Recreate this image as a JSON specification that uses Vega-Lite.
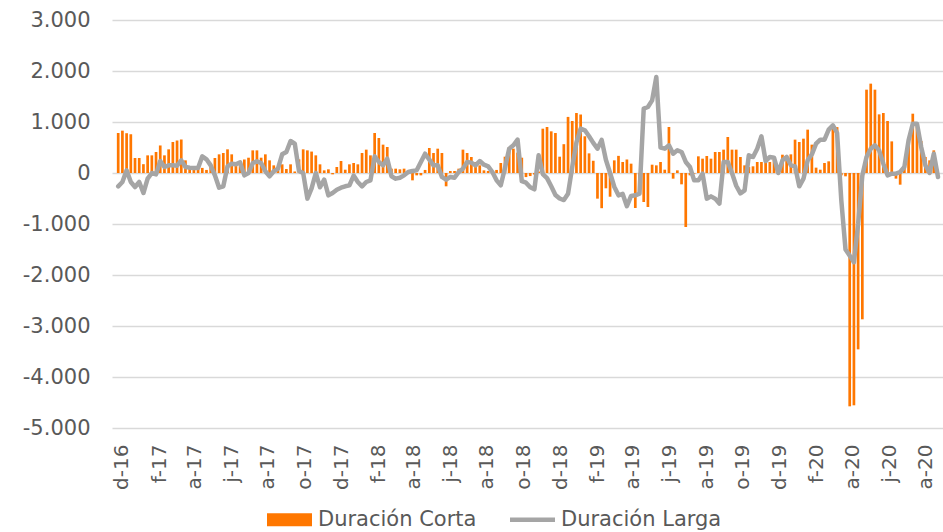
{
  "$schema": "https://vega.github.io/schema/vega-lite/v6.json",
  "width": 831,
  "height": 408,
  "autosize": {"type": "none"},
  "padding": {"left": 112, "top": 20, "right": 0, "bottom": 104},
  "background": "#ffffff",
  "config": {
    "view": {"stroke": null},
    "font": "DejaVu Sans"
  },
  "data": {
    "values": [
      {"fecha": "2016-11-25", "corta": 784, "larga": -261},
      {"fecha": "2016-12-02", "corta": 830, "larga": -176},
      {"fecha": "2016-12-09", "corta": 780, "larga": 52},
      {"fecha": "2016-12-16", "corta": 760, "larga": -176},
      {"fecha": "2016-12-23", "corta": 294, "larga": -275},
      {"fecha": "2016-12-30", "corta": 294, "larga": -176},
      {"fecha": "2017-01-06", "corta": 173, "larga": -392},
      {"fecha": "2017-01-13", "corta": 346, "larga": -111},
      {"fecha": "2017-01-20", "corta": 346, "larga": 0},
      {"fecha": "2017-01-27", "corta": 412, "larga": -26},
      {"fecha": "2017-02-03", "corta": 540, "larga": 235},
      {"fecha": "2017-02-10", "corta": 346, "larga": 118},
      {"fecha": "2017-02-17", "corta": 464, "larga": 150},
      {"fecha": "2017-02-24", "corta": 608, "larga": 150},
      {"fecha": "2017-03-03", "corta": 637, "larga": 144},
      {"fecha": "2017-03-10", "corta": 657, "larga": 248},
      {"fecha": "2017-03-17", "corta": 248, "larga": 118},
      {"fecha": "2017-03-24", "corta": 110, "larga": 105},
      {"fecha": "2017-03-31", "corta": 100, "larga": 98},
      {"fecha": "2017-04-07", "corta": 90, "larga": 98},
      {"fecha": "2017-04-14", "corta": 100, "larga": 327},
      {"fecha": "2017-04-21", "corta": 60, "larga": 268},
      {"fecha": "2017-04-28", "corta": 180, "larga": 150},
      {"fecha": "2017-05-05", "corta": 294, "larga": -46},
      {"fecha": "2017-05-12", "corta": 366, "larga": -288},
      {"fecha": "2017-05-19", "corta": 392, "larga": -261},
      {"fecha": "2017-05-26", "corta": 464, "larga": 131},
      {"fecha": "2017-06-02", "corta": 366, "larga": 183},
      {"fecha": "2017-06-09", "corta": 216, "larga": 170},
      {"fecha": "2017-06-16", "corta": 220, "larga": 209},
      {"fecha": "2017-06-23", "corta": 265, "larga": -46},
      {"fecha": "2017-06-30", "corta": 300, "larga": 0},
      {"fecha": "2017-07-07", "corta": 444, "larga": 196},
      {"fecha": "2017-07-14", "corta": 444, "larga": 229},
      {"fecha": "2017-07-21", "corta": 300, "larga": 196},
      {"fecha": "2017-07-28", "corta": 366, "larga": 33},
      {"fecha": "2017-08-04", "corta": 248, "larga": -65},
      {"fecha": "2017-08-11", "corta": 150, "larga": 33},
      {"fecha": "2017-08-18", "corta": 100, "larga": 85},
      {"fecha": "2017-08-25", "corta": 170, "larga": 366},
      {"fecha": "2017-09-01", "corta": 78, "larga": 412},
      {"fecha": "2017-09-08", "corta": 170, "larga": 627},
      {"fecha": "2017-09-15", "corta": 30, "larga": 575},
      {"fecha": "2017-09-22", "corta": 268, "larga": 39},
      {"fecha": "2017-09-29", "corta": 464, "larga": 0},
      {"fecha": "2017-10-06", "corta": 444, "larga": -503},
      {"fecha": "2017-10-13", "corta": 420, "larga": -300},
      {"fecha": "2017-10-20", "corta": 346, "larga": 0},
      {"fecha": "2017-10-27", "corta": 170, "larga": -280},
      {"fecha": "2017-11-03", "corta": 52, "larga": -131},
      {"fecha": "2017-11-10", "corta": 72, "larga": -438},
      {"fecha": "2017-11-17", "corta": -26, "larga": -392},
      {"fecha": "2017-11-24", "corta": 118, "larga": -327},
      {"fecha": "2017-12-01", "corta": 235, "larga": -288},
      {"fecha": "2017-12-08", "corta": 65, "larga": -261},
      {"fecha": "2017-12-15", "corta": 170, "larga": -242},
      {"fecha": "2017-12-22", "corta": 196, "larga": -50},
      {"fecha": "2017-12-29", "corta": 170, "larga": -176},
      {"fecha": "2018-01-05", "corta": 392, "larga": -261},
      {"fecha": "2018-01-12", "corta": 458, "larga": -176},
      {"fecha": "2018-01-19", "corta": 346, "larga": -144},
      {"fecha": "2018-01-26", "corta": 784, "larga": 327},
      {"fecha": "2018-02-02", "corta": 686, "larga": 216},
      {"fecha": "2018-02-09", "corta": 556, "larga": 150},
      {"fecha": "2018-02-16", "corta": 510, "larga": 281},
      {"fecha": "2018-02-23", "corta": 85, "larga": -65},
      {"fecha": "2018-03-02", "corta": 85, "larga": -111},
      {"fecha": "2018-03-09", "corta": 72, "larga": -92},
      {"fecha": "2018-03-16", "corta": 85, "larga": -46},
      {"fecha": "2018-03-23", "corta": 39, "larga": 20},
      {"fecha": "2018-03-30", "corta": -144, "larga": 39},
      {"fecha": "2018-04-06", "corta": -46, "larga": 52},
      {"fecha": "2018-04-13", "corta": -46, "larga": 216},
      {"fecha": "2018-04-20", "corta": 60, "larga": 379},
      {"fecha": "2018-04-27", "corta": 490, "larga": 261},
      {"fecha": "2018-05-04", "corta": 392, "larga": 150},
      {"fecha": "2018-05-11", "corta": 477, "larga": 150},
      {"fecha": "2018-05-18", "corta": 392, "larga": -78},
      {"fecha": "2018-05-25", "corta": -261, "larga": -131},
      {"fecha": "2018-06-01", "corta": 39, "larga": -78},
      {"fecha": "2018-06-08", "corta": 39, "larga": -92},
      {"fecha": "2018-06-15", "corta": 85, "larga": 20},
      {"fecha": "2018-06-22", "corta": 458, "larga": 85},
      {"fecha": "2018-06-29", "corta": 392, "larga": 216},
      {"fecha": "2018-07-06", "corta": 314, "larga": 203},
      {"fecha": "2018-07-13", "corta": 216, "larga": 150},
      {"fecha": "2018-07-20", "corta": 150, "larga": 235},
      {"fecha": "2018-07-27", "corta": 52, "larga": 163},
      {"fecha": "2018-08-03", "corta": 40, "larga": 131},
      {"fecha": "2018-08-10", "corta": 30, "larga": 20},
      {"fecha": "2018-08-17", "corta": 60, "larga": -144},
      {"fecha": "2018-08-24", "corta": 196, "larga": -242},
      {"fecha": "2018-08-31", "corta": 320, "larga": 100},
      {"fecha": "2018-09-07", "corta": 510, "larga": 477},
      {"fecha": "2018-09-14", "corta": 477, "larga": 542},
      {"fecha": "2018-09-21", "corta": 400, "larga": 654},
      {"fecha": "2018-09-28", "corta": 300, "larga": -160},
      {"fecha": "2018-10-05", "corta": -80, "larga": -190},
      {"fecha": "2018-10-12", "corta": -60, "larga": -280},
      {"fecha": "2018-10-19", "corta": -30, "larga": -320},
      {"fecha": "2018-10-26", "corta": 30, "larga": 346},
      {"fecha": "2018-11-02", "corta": 869, "larga": -20},
      {"fecha": "2018-11-09", "corta": 902, "larga": -100},
      {"fecha": "2018-11-16", "corta": 817, "larga": -260},
      {"fecha": "2018-11-23", "corta": 784, "larga": -430},
      {"fecha": "2018-11-30", "corta": 320, "larga": -500},
      {"fecha": "2018-12-07", "corta": 565, "larga": -530},
      {"fecha": "2018-12-14", "corta": 1100, "larga": -405},
      {"fecha": "2018-12-21", "corta": 1020, "larga": 118},
      {"fecha": "2018-12-28", "corta": 1176, "larga": 600},
      {"fecha": "2019-01-04", "corta": 1147, "larga": 870},
      {"fecha": "2019-01-11", "corta": 720, "larga": 837},
      {"fecha": "2019-01-18", "corta": 385, "larga": 720},
      {"fecha": "2019-01-25", "corta": 240, "larga": 590},
      {"fecha": "2019-02-01", "corta": -503, "larga": 477},
      {"fecha": "2019-02-08", "corta": -690, "larga": 650},
      {"fecha": "2019-02-15", "corta": -300, "larga": 260},
      {"fecha": "2019-02-22", "corta": -465, "larga": 0},
      {"fecha": "2019-03-01", "corta": 248, "larga": -270},
      {"fecha": "2019-03-08", "corta": 336, "larga": -438},
      {"fecha": "2019-03-15", "corta": 216, "larga": -410},
      {"fecha": "2019-03-22", "corta": 265, "larga": -650},
      {"fecha": "2019-03-29", "corta": 183, "larga": -450},
      {"fecha": "2019-04-05", "corta": -686, "larga": -438},
      {"fecha": "2019-04-12", "corta": -392, "larga": -405},
      {"fecha": "2019-04-19", "corta": -569, "larga": 1261},
      {"fecha": "2019-04-26", "corta": -667, "larga": 1294},
      {"fecha": "2019-05-03", "corta": 163, "larga": 1425},
      {"fecha": "2019-05-10", "corta": 150, "larga": 1882},
      {"fecha": "2019-05-17", "corta": 216, "larga": 497},
      {"fecha": "2019-05-24", "corta": 65, "larga": 477},
      {"fecha": "2019-05-31", "corta": 902, "larga": 542},
      {"fecha": "2019-06-07", "corta": -111, "larga": 379},
      {"fecha": "2019-06-14", "corta": 52, "larga": 444},
      {"fecha": "2019-06-21", "corta": -222, "larga": 412},
      {"fecha": "2019-06-28", "corta": -1059, "larga": 216},
      {"fecha": "2019-07-05", "corta": -46, "larga": 118},
      {"fecha": "2019-07-12", "corta": -13, "larga": -144},
      {"fecha": "2019-07-19", "corta": 327, "larga": -144},
      {"fecha": "2019-07-26", "corta": 281, "larga": -13},
      {"fecha": "2019-08-02", "corta": 333, "larga": -503},
      {"fecha": "2019-08-09", "corta": 281, "larga": -458},
      {"fecha": "2019-08-16", "corta": 412, "larga": -503},
      {"fecha": "2019-08-23", "corta": 412, "larga": -601},
      {"fecha": "2019-08-30", "corta": 458, "larga": 216},
      {"fecha": "2019-09-06", "corta": 706, "larga": 216},
      {"fecha": "2019-09-13", "corta": 458, "larga": 0},
      {"fecha": "2019-09-20", "corta": 458, "larga": -250},
      {"fecha": "2019-09-27", "corta": 314, "larga": -400},
      {"fecha": "2019-10-04", "corta": 150, "larga": -340},
      {"fecha": "2019-10-11", "corta": 118, "larga": 346},
      {"fecha": "2019-10-18", "corta": 131, "larga": 314},
      {"fecha": "2019-10-25", "corta": 216, "larga": 477},
      {"fecha": "2019-11-01", "corta": 216, "larga": 719},
      {"fecha": "2019-11-08", "corta": 261, "larga": 235},
      {"fecha": "2019-11-15", "corta": 216, "larga": 314},
      {"fecha": "2019-11-22", "corta": 281, "larga": 300},
      {"fecha": "2019-11-29", "corta": 150, "larga": 0},
      {"fecha": "2019-12-06", "corta": 359, "larga": 248},
      {"fecha": "2019-12-13", "corta": 340, "larga": 314},
      {"fecha": "2019-12-20", "corta": 366, "larga": 150},
      {"fecha": "2019-12-27", "corta": 654, "larga": 131},
      {"fecha": "2020-01-03", "corta": 608, "larga": -261},
      {"fecha": "2020-01-10", "corta": 673, "larga": -111},
      {"fecha": "2020-01-17", "corta": 850, "larga": 248},
      {"fecha": "2020-01-24", "corta": 556, "larga": 366},
      {"fecha": "2020-01-31", "corta": 105, "larga": 575},
      {"fecha": "2020-02-07", "corta": 65, "larga": 654},
      {"fecha": "2020-02-14", "corta": 196, "larga": 654},
      {"fecha": "2020-02-21", "corta": 229, "larga": 850},
      {"fecha": "2020-02-28", "corta": 930, "larga": 935},
      {"fecha": "2020-03-06", "corta": 900, "larga": 784},
      {"fecha": "2020-03-13", "corta": -46, "larga": -536},
      {"fecha": "2020-03-20", "corta": -65, "larga": -1500},
      {"fecha": "2020-03-27", "corta": -4575, "larga": -1620},
      {"fecha": "2020-04-03", "corta": -4555, "larga": -1750},
      {"fecha": "2020-04-10", "corta": -3458, "larga": -1000},
      {"fecha": "2020-04-17", "corta": -2869, "larga": -50},
      {"fecha": "2020-04-24", "corta": 1634, "larga": 314},
      {"fecha": "2020-05-01", "corta": 1752, "larga": 477},
      {"fecha": "2020-05-08", "corta": 1634, "larga": 542},
      {"fecha": "2020-05-15", "corta": 1150, "larga": 444},
      {"fecha": "2020-05-22", "corta": 1176, "larga": 183},
      {"fecha": "2020-05-29", "corta": 1020, "larga": -46},
      {"fecha": "2020-06-05", "corta": 620, "larga": -13},
      {"fecha": "2020-06-12", "corta": -111, "larga": -13},
      {"fecha": "2020-06-19", "corta": -229, "larga": 20},
      {"fecha": "2020-06-26", "corta": 150, "larga": 118},
      {"fecha": "2020-07-03", "corta": 542, "larga": 641},
      {"fecha": "2020-07-10", "corta": 1163, "larga": 967},
      {"fecha": "2020-07-17", "corta": 980, "larga": 967},
      {"fecha": "2020-07-24", "corta": 627, "larga": 510},
      {"fecha": "2020-07-31", "corta": 314, "larga": 150},
      {"fecha": "2020-08-07", "corta": 248, "larga": 0},
      {"fecha": "2020-08-14", "corta": 444, "larga": 379},
      {"fecha": "2020-08-21", "corta": 0, "larga": -78}
    ]
  },
  "encoding": {
    "x": {
      "field": "fecha",
      "type": "temporal",
      "scale": {
        "type": "utc",
        "domain": [
          {"year": 2016, "month": 11, "date": 23, "utc": true},
          {"year": 2020, "month": 8, "date": 21, "utc": true}
        ]
      },
      "axis": {
        "title": null,
        "domain": false,
        "ticks": false,
        "grid": false,
        "labelAngle": -90,
        "labelPadding": 16,
        "labelFont": "DejaVu Sans",
        "labelFontSize": 20,
        "labelColor": "#595959",
        "labelOverlap": false,
        "labelFlush": false,
        "values": [
          {"year": 2016, "month": 12, "date": 1, "utc": true},
          {"year": 2017, "month": 2, "date": 1, "utc": true},
          {"year": 2017, "month": 4, "date": 1, "utc": true},
          {"year": 2017, "month": 6, "date": 1, "utc": true},
          {"year": 2017, "month": 8, "date": 1, "utc": true},
          {"year": 2017, "month": 10, "date": 1, "utc": true},
          {"year": 2017, "month": 12, "date": 1, "utc": true},
          {"year": 2018, "month": 2, "date": 1, "utc": true},
          {"year": 2018, "month": 4, "date": 1, "utc": true},
          {"year": 2018, "month": 6, "date": 1, "utc": true},
          {"year": 2018, "month": 8, "date": 1, "utc": true},
          {"year": 2018, "month": 10, "date": 1, "utc": true},
          {"year": 2018, "month": 12, "date": 1, "utc": true},
          {"year": 2019, "month": 2, "date": 1, "utc": true},
          {"year": 2019, "month": 4, "date": 1, "utc": true},
          {"year": 2019, "month": 6, "date": 1, "utc": true},
          {"year": 2019, "month": 8, "date": 1, "utc": true},
          {"year": 2019, "month": 10, "date": 1, "utc": true},
          {"year": 2019, "month": 12, "date": 1, "utc": true},
          {"year": 2020, "month": 2, "date": 1, "utc": true},
          {"year": 2020, "month": 4, "date": 1, "utc": true},
          {"year": 2020, "month": 6, "date": 1, "utc": true},
          {"year": 2020, "month": 8, "date": 1, "utc": true}
        ],
        "labelExpr": "['e','f','m','a','m','j','j','a','s','o','n','d'][utcmonth(datum.value)] + '-' + utcFormat(datum.value, '%y')"
      }
    }
  },
  "layer": [
    {
      "mark": {"type": "bar", "size": 2.7, "clip": true},
      "encoding": {
        "y": {
          "field": "corta",
          "type": "quantitative",
          "scale": {"domain": [-5000, 3000], "nice": false, "zero": true},
          "axis": {
            "title": null,
            "domain": false,
            "ticks": false,
            "grid": true,
            "gridColor": "#D9D9D9",
            "gridWidth": 1.3,
            "labelPadding": 22,
            "labelFont": "DejaVu Sans",
            "labelFontSize": 21,
            "labelColor": "#595959",
            "values": [-5000, -4000, -3000, -2000, -1000, 0, 1000, 2000, 3000],
            "labelExpr": "(datum.value < 0 ? '-' : '') + (abs(datum.value) >= 1000 ? floor(abs(datum.value) / 1000) + '.000' : '0')"
          }
        },
        "color": {
          "datum": "Duración Corta",
          "scale": {"domain": ["Duración Corta", "Duración Larga"], "range": ["#FF7700", "#A5A5A5"]},
          "legend": {
            "title": null,
            "orient": "none",
            "legendX": 155,
            "legendY": 477,
            "direction": "horizontal",
            "padding": 0,
            "labelFont": "DejaVu Sans",
            "labelFontSize": 21,
            "labelColor": "#595959",
            "labelLimit": 400,
            "labelOffset": 6,
            "columnPadding": 33,
            "symbolSize": 2025,
            "symbolStrokeWidth": 0,
            "symbolType": "M-1,-0.29H1V0.29H-1Z",
            "encode": {
              "symbols": {
                "update": {
                  "shape": {"signal": "datum.value == 'Duración Larga' ? 'M-1,-0.1H1V0.1H-1Z' : 'M-1,-0.29H1V0.29H-1Z'"},
                  "fill": {"signal": "datum.value == 'Duración Larga' ? '#A5A5A5' : '#FF7700'"},
                  "stroke": {"value": "transparent"},
                  "opacity": {"value": 1}
                }
              }
            }
          }
        }
      }
    },
    {
      "mark": {"type": "line", "strokeWidth": 4.5, "strokeJoin": "round", "strokeCap": "round", "clip": true},
      "encoding": {
        "y": {"field": "larga", "type": "quantitative"},
        "color": {"datum": "Duración Larga"}
      }
    }
  ]
}
